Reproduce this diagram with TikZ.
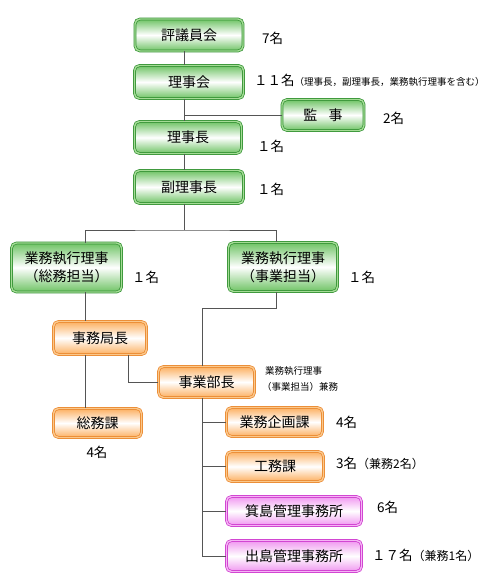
\documentclass[tikz,border=0pt]{standalone}
\usepackage{fontspec}
\setmainfont{Noto Sans CJK JP}
\usepackage{xcolor}

\definecolor{gline}{RGB}{50,145,50}
\definecolor{gband}{RGB}{165,220,150}
\definecolor{gfill}{RGB}{110,195,100}
\definecolor{oline}{RGB}{235,135,45}
\definecolor{oband}{RGB}{250,200,140}
\definecolor{ofill}{RGB}{252,175,95}
\definecolor{pline}{RGB}{205,55,205}
\definecolor{pband}{RGB}{245,180,245}
\definecolor{pfill}{RGB}{240,150,240}
\definecolor{wire}{RGB}{85,85,85}

\tikzset{
  orgbox/.style={rounded corners=5pt, line width=0.7pt, double distance=1.4pt,
    inner sep=0pt, align=center, font=\fontsize{14}{18}\selectfont},
  gbox/.style={orgbox, draw=gline, double=gband, top color=gfill, bottom color=gfill, middle color=white},
  obox/.style={orgbox, draw=oline, double=oband, top color=ofill, bottom color=ofill, middle color=white},
  pbox/.style={orgbox, draw=pline, double=pband, top color=pfill, bottom color=pfill, middle color=white},
  wire/.style={draw=wire, line width=0.8pt},
  cnt/.style={anchor=west, inner sep=0pt, font=\fontsize{13.5}{15}\selectfont},
  note/.style={anchor=west, inner sep=0pt, font=\fontsize{9.5}{12}\selectfont},
}

\begin{document}
\begin{tikzpicture}[x=1pt, y=-1pt]
  \useasboundingbox (0,0) rectangle (484,580);

  % boxes
  \node[gbox, minimum width=108pt, minimum height=32pt] (hyogi) at (189,35) {評議員会};
  \node[gbox, minimum width=109pt, minimum height=33pt] (rijikai) at (189,82) {理事会};
  \node[gbox, minimum width=82pt, minimum height=31pt] (kanji) at (323,115) {監\hspace{0.8em}事};
  \node[gbox, minimum width=107pt, minimum height=32pt] (richo) at (188,137.5) {理事長};
  \node[gbox, minimum width=109pt, minimum height=33pt] (fukuricho) at (189,187) {副理事長};
  \node[gbox, minimum width=110pt, minimum height=49pt] (soumuriji) at (66.5,267.5) {業務執行理事\\（総務担当）};
  \node[gbox, minimum width=109pt, minimum height=49pt] (jigyoriji) at (283,267) {業務執行理事\\（事業担当）};
  \node[obox, minimum width=93pt, minimum height=33pt] (jimukyoku) at (100,338) {事務局長};
  \node[obox, minimum width=96pt, minimum height=31pt] (jigyobu) at (206.5,382) {事業部長};
  \node[obox, minimum width=88pt, minimum height=29pt] (soumuka) at (97.5,423) {総務課};
  \node[obox, minimum width=96pt, minimum height=29pt] (kikaku) at (274.5,422) {業務企画課};
  \node[obox, minimum width=97pt, minimum height=30pt] (komu) at (275,466.5) {工務課};
  \node[pbox, minimum width=135pt, minimum height=29pt] (mishima) at (294,511) {箕島管理事務所};
  \node[pbox, minimum width=135pt, minimum height=31pt] (dejima) at (294,556) {出島管理事務所};

  % where the vertical lines run
  \coordinate (sp) at (184,0);
  \coordinate (sl) at (85,0);
  \coordinate (sr) at (276,0);
  \coordinate (jk) at (128,0);
  \coordinate (jb) at (202,0);
  \coordinate (top2) at (0,230);
  \coordinate (mid2) at (0,308);

  % lines
  \draw[wire] (hyogi.south -| sp) -- (rijikai.north -| sp);
  \draw[wire] (rijikai.south -| sp) -- (richo.north -| sp);
  \draw[wire] (kanji.west -| sp) -- (kanji.west);
  \draw[wire] (richo.south -| sp) -- (fukuricho.north -| sp);
  \draw[wire] (fukuricho.south -| sp) -- (top2 -| sp);
  \draw[wire] (soumuriji.north -| sl) |- (top2 -| sp) -| (jigyoriji.north -| sr);
  \draw[wire] (soumuriji.south -| sl) -- (jimukyoku.north -| sl);
  \draw[wire] (jimukyoku.south -| sl) -- (soumuka.north -| sl);
  \draw[wire] (jimukyoku.south -| jk) |- (jigyobu.west);
  \draw[wire] (jigyoriji.south -| sr) |- (mid2 -| jb) -- (jigyobu.north -| jb);
  \draw[wire] (jigyobu.south -| jb) |- (dejima.west);
  \draw[wire] (kikaku.west -| jb) -- (kikaku.west);
  \draw[wire] (komu.west -| jb) -- (komu.west);
  \draw[wire] (mishima.west -| jb) -- (mishima.west);

  % staff numbers
  \node[cnt] (n1) at (262,38) {7名};
  \node[cnt] (n2) at (254,80) {１１名\fontsize{9.5}{12}\selectfont（理事長，副理事長，業務執行理事を含む）};
  \node[cnt] (n3) at (383,118) {2名};
  \node[cnt] (n4) at (257,146) {１名};
  \node[cnt] (n5) at (257,189) {１名};
  \node[cnt] (n6) at (132,277) {１名};
  \node[cnt] (n7) at (348,277) {１名};
  \node[note] (n8) at (265,371) {業務執行理事};
  \node[note] (n9) at (262,387) {（事業担当）兼務};
  \node[cnt, anchor=center] (n10) at (97,452) {4名};
  \node[cnt] (n11) at (336,422) {4名};
  \node[cnt] (n12) at (336,463) {3名\fontsize{12}{14}\selectfont（兼務2名）};
  \node[cnt] (n13) at (377,507) {6名};
  \node[cnt] (n14) at (372,555) {１７名\fontsize{12}{14}\selectfont（兼務1名）};
\end{tikzpicture}
\end{document}
